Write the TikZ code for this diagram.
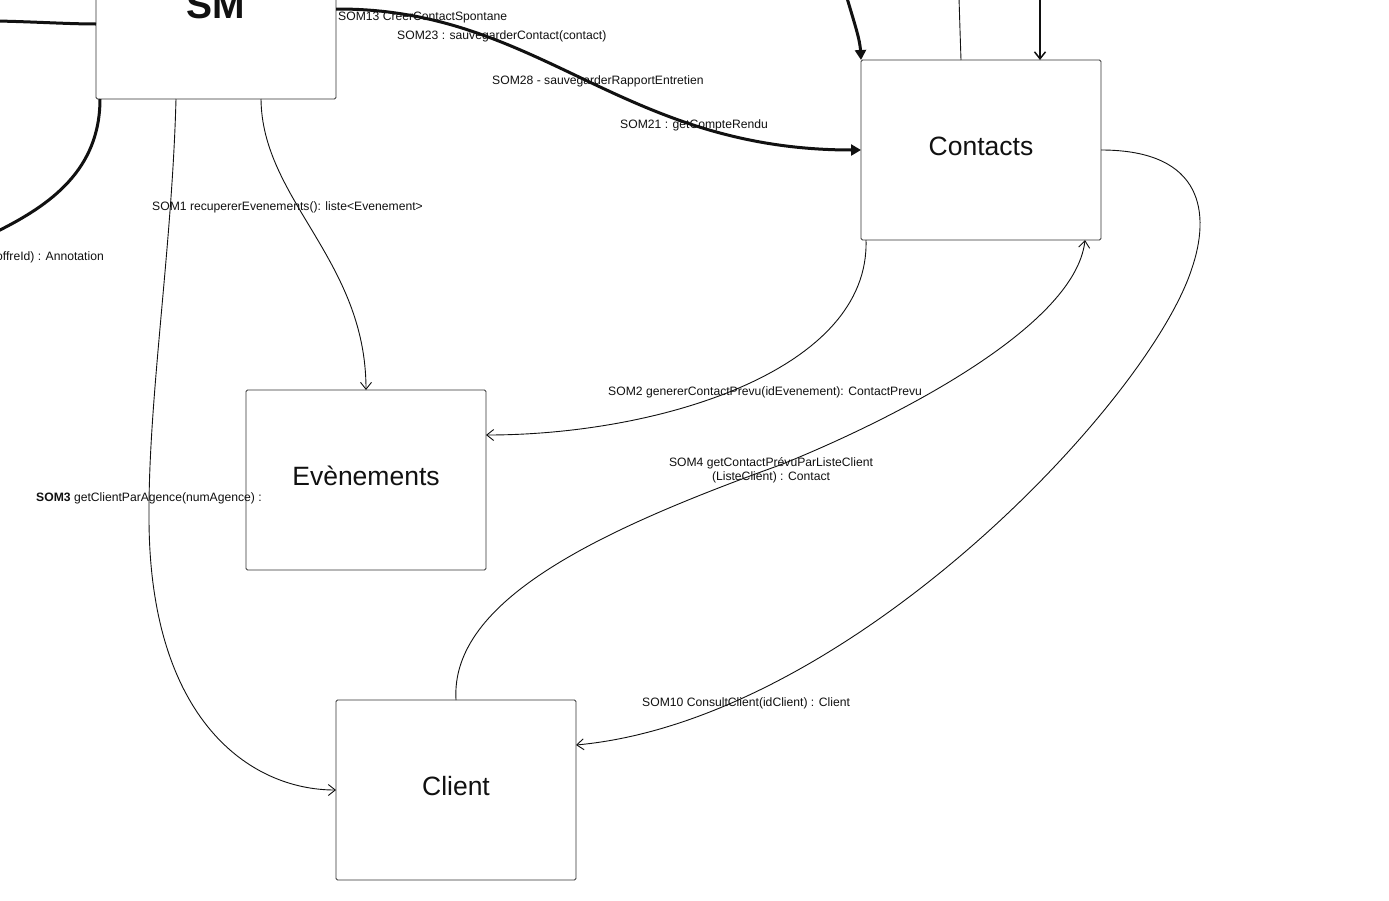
\documentclass[tikz,border=0pt]{standalone}
\usepackage{fontspec}
\setmainfont{Liberation Sans}
\usetikzlibrary{arrows.meta}
\definecolor{boxc}{HTML}{333333}
\definecolor{ink}{HTML}{111111}
\begin{document}
\begin{tikzpicture}[x=1pt,y=-1pt,
  box/.style={draw=boxc, line width=0.9pt, rounded corners=1.5pt, minimum width=240pt, minimum height=180pt,
    inner sep=0pt, outer sep=0pt, font=\fontsize{26.5}{30}\selectfont, text height=19pt, text depth=8pt, text=ink},
  lbl/.style={font=\fontsize{12.15}{14}\selectfont, inner sep=0pt, text height=8.6pt, text depth=0pt, anchor=west, text=ink},
  conn/.style={line width=0.9pt, draw=ink},
  heavy/.style={line width=3pt, draw=ink},
  medium/.style={line width=1.5pt, draw=ink},
  openhead/.style={-{Straight Barb[length=7pt,width=11pt]}},
  fullhead/.style={-{Triangle[length=10pt,width=11pt]}}]
\useasboundingbox (0,0) rectangle (1389,900);
\fill[white] (0,0) rectangle (1389,900);

% boxes
\node[box, font=\bfseries\fontsize{39}{42}\selectfont, text height=28pt, text depth=10pt] (sm) at (216,9) {SM};
\node[box] (contacts) at (981,150) {Contacts};
\node[box] (evts) at (366,480) {Evènements};
\node[box] (client) at (456,790) {Client};

% free ends at the picture edges
\coordinate (eL) at (-2,21);
\coordinate (eA) at (-2,231);
\coordinate (eT1) at (847,-2);
\coordinate (eT2) at (959,-2);
\coordinate (eT3) at (1040,-2);

% heavy connectors
\draw[heavy] (eL) .. controls (40,22) and (70,24) .. ([yshift=-15pt]sm.west);
\draw[heavy] ([xshift=4pt]sm.south west) .. controls (100,170) and (50,205) .. (eA);
\draw[heavy, fullhead] (sm.east) .. controls (540,8) and (620,150) .. (contacts.west);
\draw[heavy, fullhead] (eT1) .. controls (855,25) and (860,40) .. (contacts.north west);
\draw[conn] (eT2) .. controls (960,30) .. ([xshift=-20pt]contacts.north);
\draw[medium, openhead] (eT3) -- ([xshift=59pt]contacts.north);

% thin connectors
\draw[conn, openhead] ([xshift=80pt]sm.south west) .. controls (172,250) and (148,400) .. (149,520)
  .. controls (150,720) and (250,790) .. (client.west);
\draw[conn, openhead] ([xshift=165pt]sm.south west) .. controls (262,200) and (366,260) .. (evts.north);
\draw[conn, openhead] ([xshift=5pt]contacts.south west) .. controls (870,370) and (660,435) .. ([yshift=45pt]evts.east);
\draw[conn, openhead] (client.north) .. controls (450,600) and (600,530) .. (780,465)
  .. controls (880,425) and (1075,330) .. ([xshift=-16pt]contacts.south east);
\draw[conn, openhead] (contacts.east) .. controls (1205,150) and (1210,215) .. (1192,268)
  .. controls (1150,400) and (850,720) .. ([yshift=45pt]client.east);

% labels
\node[lbl] (l13) at (338,16) {SOM13 CreerContactSpontane};
\node[lbl] (l23) at (397,35) {SOM23 : sauvegarderContact(contact)};
\node[lbl] (l28) at (492,80) {SOM28 - sauvegarderRapportEntretien};
\node[lbl] (l21) at (620,124) {SOM21 : getCompteRendu};
\node[lbl] (l1) at (152,206) {SOM1 recupererEvenements(): liste<Evenement>};
\node[lbl, anchor=east] (lann) at (104,256) {offreId) : Annotation};
\node[lbl] (l2) at (608,391) {SOM2 genererContactPrevu(idEvenement): ContactPrevu};
\node[font=\fontsize{12.15}{14}\selectfont, inner sep=0pt, align=center, text=ink] (l4) at (771,470)
  {SOM4 getContactPrévuParListeClient\\(ListeClient) : Contact};
\node[lbl] (l3) at (36,497) {\textbf{SOM3} getClientParAgence(numAgence) :};
\node[lbl] (l10) at (642,702) {SOM10 ConsultClient(idClient) : Client};
\end{tikzpicture}
\end{document}
